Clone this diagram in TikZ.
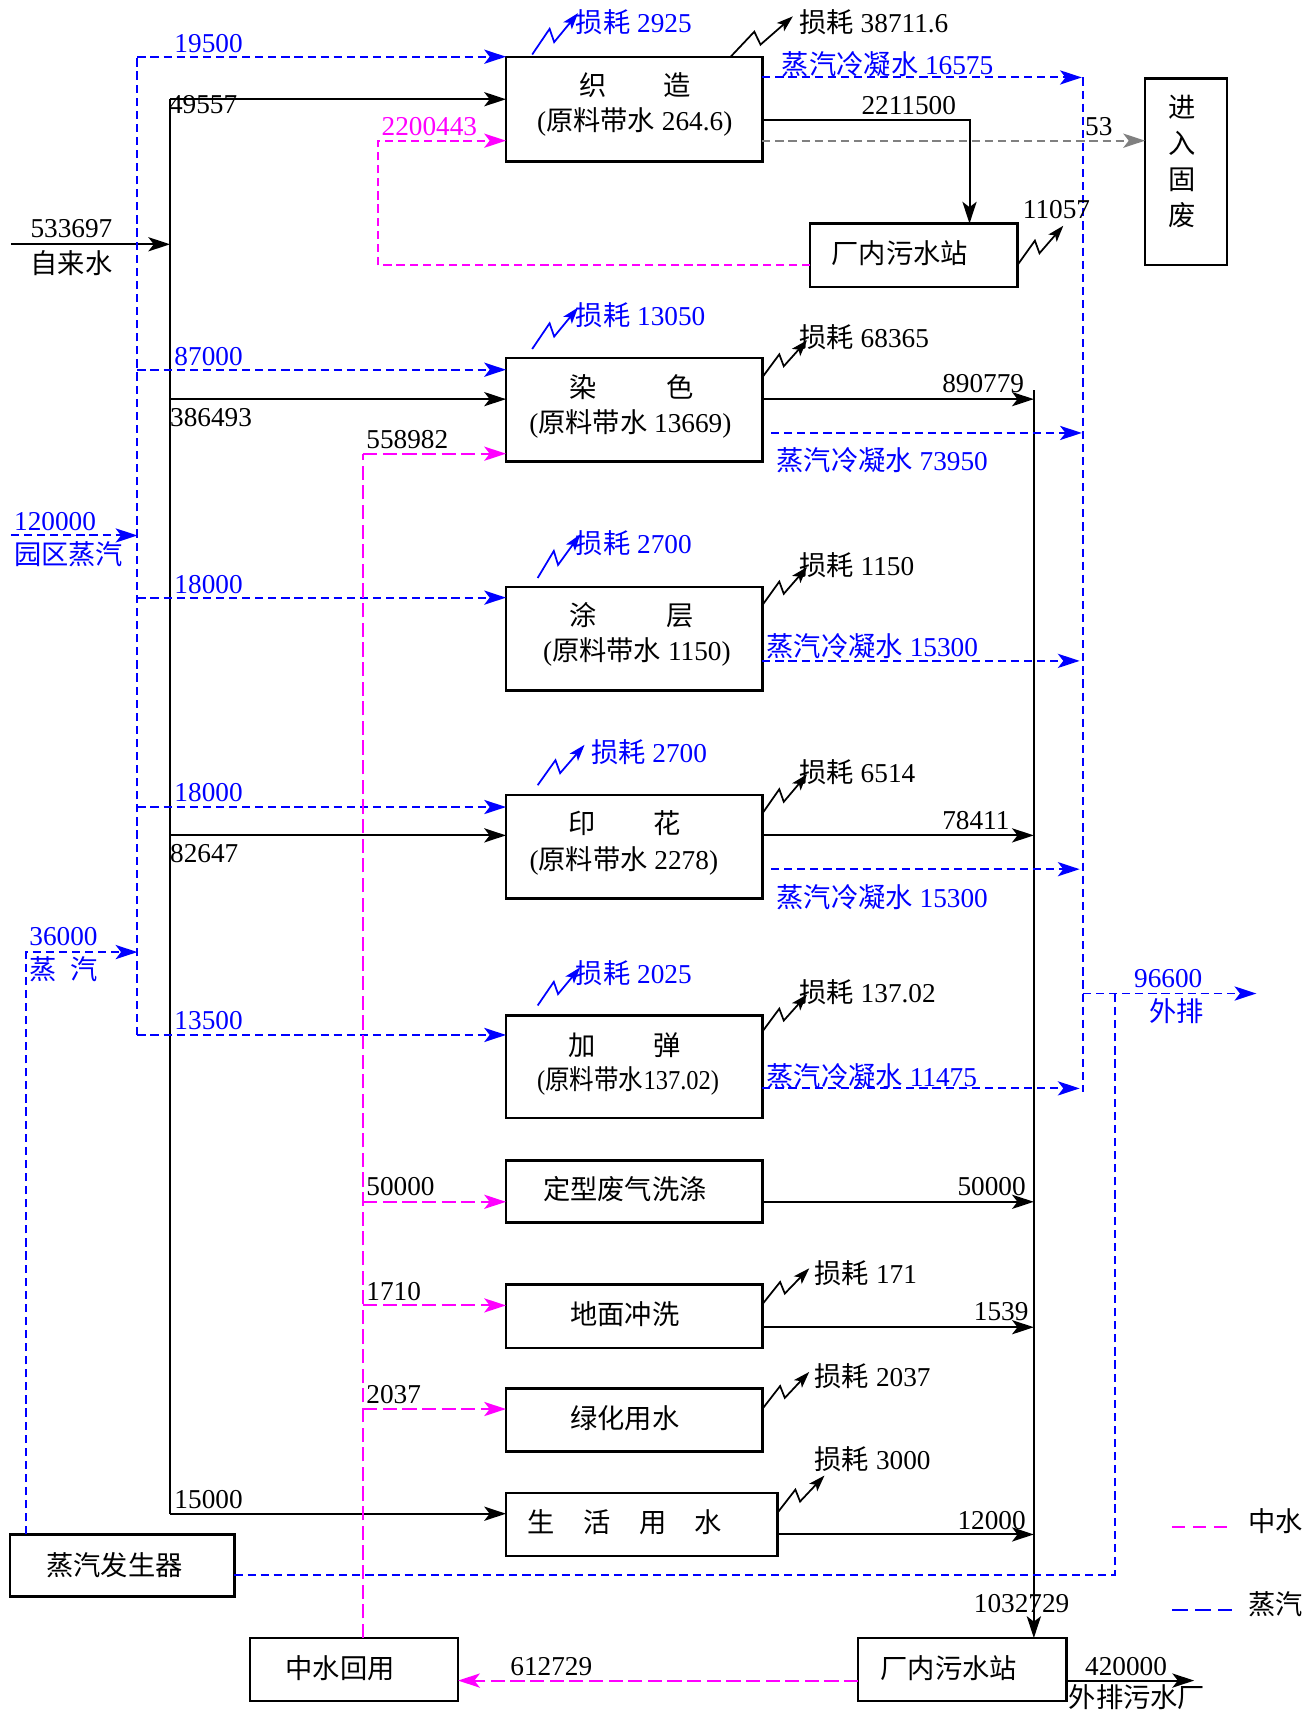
\documentclass[tikz,border=0pt]{standalone}
\usepackage{fontspec}
\usepackage{graphicx}
\setmainfont{Liberation Serif}
\newfontfamily\cjk{Noto Sans CJK SC}
\usetikzlibrary{arrows.meta,calc}
\definecolor{mag}{RGB}{255,0,255}
\definecolor{blu}{RGB}{0,0,255}
\definecolor{gry}{RGB}{128,128,128}
\newcommand\zh[1]{{\cjk #1}}
\newcommand\lossarrow[3]{%
  \draw[lossln,#3] let \p1=#1, \p2=#2 in
    (\p1) -- ({\x1+0.38*(\x2-\x1)},{\y1+0.62*(\y2-\y1)})
    -- ({\x1+0.48*(\x2-\x1)},{\y1+0.30*(\y2-\y1)}) -- (\p2);}
\begin{document}
\begin{tikzpicture}[x=1pt,y=-1pt,
  every node/.style={inner sep=0pt,outer sep=0pt},
  font=\fontsize{25}{30}\selectfont,
  box/.style={draw,line width=2.2pt,anchor=north west},
  lbl/.style={anchor=west},
  wline/.style={line width=1.8pt},
  arr/.style={-{Stealth[length=20pt,width=13pt,inset=5pt]}},
  bl/.style={blu,dash pattern=on 7.5pt off 4.5pt},
  mg/.style={mag,dash pattern=on 13pt off 5pt},
  mgs/.style={mag,dash pattern=on 7.5pt off 4.5pt},
  gr/.style={gry,dash pattern=on 7.5pt off 4.5pt},
  lossln/.style={line width=1.6pt,-{Stealth[length=15pt,width=10pt,inset=3.5pt]}}
]
\useasboundingbox (0,0) rectangle (1196,1568);
\fill[white] (0,0) rectangle (1196,1568);

% ---------------- boxes
\node[box,minimum width=235pt,minimum height=96pt] (zz) at (464,52) {};
\node[box,minimum width=190pt,minimum height=58pt] (ws1) at (743,205) {};
\node[box,minimum width=75pt,minimum height=171pt] (gf) at (1050,72) {};
\node[box,minimum width=235pt,minimum height=95pt] (rs) at (464,328) {};
\node[box,minimum width=235pt,minimum height=95pt] (tc) at (464,538) {};
\node[box,minimum width=235pt,minimum height=95pt] (yh) at (464,729) {};
\node[box,minimum width=235pt,minimum height=94pt] (jt) at (464,931) {};
\node[box,minimum width=235pt,minimum height=57pt] (dx) at (464,1064) {};
\node[box,minimum width=235pt,minimum height=58pt] (dm) at (464,1178) {};
\node[box,minimum width=235pt,minimum height=58pt] (lh) at (464,1273) {};
\node[box,minimum width=249pt,minimum height=58pt] (sh) at (464,1369) {};
\node[box,minimum width=206pt,minimum height=57pt] (zq) at (9,1407) {};
\node[box,minimum width=191pt,minimum height=58pt] (zs) at (229,1502) {};
\node[box,minimum width=191pt,minimum height=58pt] (ws2) at (787,1502) {};

% ---------------- box texts
\node (tzz1) at (582,78) {\zh{织\hspace{52pt}造}};
\node (tzz2) at (582,112) {(\zh{原料带水} 264.6)};
\node (tws1) at (825,232) {\zh{厂内污水站}};
\node[align=center,font=\fontsize{25}{33}\selectfont\cjk] (tgf) at (1084,148) {进\\入\\固\\废};
\node (trs1) at (579,355) {\zh{染\hspace{64pt}色}};
\node (trs2) at (578,389) {(\zh{原料带水} 13669)};
\node (ttc1) at (579,564) {\zh{涂\hspace{64pt}层}};
\node (ttc2) at (584,598) {(\zh{原料带水} 1150)};
\node (tyh1) at (573,755) {\zh{印\hspace{53pt}花}};
\node (tyh2) at (572,789) {(\zh{原料带水} 2278)};
\node (tjt1) at (573,958) {\zh{加\hspace{53pt}弹}};
\node (tjt2) at (576,991) {\scalebox{0.9}[1]{(\zh{原料带水}137.02)}};
\node (tdx) at (573,1090) {\zh{定型废气洗涤}};
\node (tdm) at (573,1205) {\zh{地面冲洗}};
\node (tlh) at (573,1300) {\zh{绿化用水}};
\node (tsh) at (573,1396) {\zh{生\hspace{26pt}活\hspace{26pt}用\hspace{26pt}水}};
\node (tzq) at (105,1435) {\zh{蒸汽发生器}};
\node (tzs) at (312,1530) {\zh{中水回用}};
\node (tws2) at (870,1530) {\zh{厂内污水站}};

% ---------------- tap water (black)
\coordinate (tap) at (10,224);
\draw[wline,arr] (tap) -- (156,224);
\draw[wline] (156,91) -- (156,1388);
\draw[wline,arr] (156,91) -- (zz.west|-0,91);
\draw[wline,arr] (156,366) -- (rs.west|-0,366);
\draw[wline,arr] (156,766) -- (yh.west|-0,766);
\draw[wline,arr] (156,1388) -- (sh.west|-0,1388);

% ---------------- park steam (blue)
\coordinate (stin) at (10,491);
\draw[bl,wline] (126,949) -- (126,52);
\draw[bl,wline,arr] (stin) -- (126,491);
\draw[bl,wline,arr] ($(zq.north west)+(15,0)$) |- (126,873);
\draw[bl,wline,arr] (126,52) -- (zz.north west);
\draw[bl,wline,arr] (126,339) -- (rs.west|-0,339);
\draw[bl,wline,arr] (126,548) -- (tc.west|-0,548);
\draw[bl,wline,arr] (126,740) -- (yh.west|-0,740);
\draw[bl,wline,arr] (126,949) -- (jt.west|-0,949);

% ---------------- reclaimed water (magenta)
\draw[mgs,wline,arr] (ws1.west|-0,243) -| (347,129) -- (zz.west|-0,129);
\draw[mg,wline] (zs.north-|333,0) -- (333,416);
\draw[mg,wline,arr] (333,416) -- (rs.west|-0,416);
\draw[mg,wline,arr] (333,1102) -- (dx.west|-0,1102);
\draw[mg,wline,arr] (333,1197) -- (dm.west|-0,1197);
\draw[mg,wline,arr] (333,1292) -- (lh.west|-0,1292);
\draw[mg,wline,arr] (ws2.west|-0,1541) -- (zs.east|-0,1541);

% ---------------- solid waste (gray)
\draw[gr,wline,arr] (zz.east|-0,129) -- (gf.west|-0,129);

% ---------------- waste water (black)
\draw[wline,arr] (zz.east|-0,110) -| (ws1.north-|889,0);
\draw[wline,arr] (948,358) -- (ws2.north-|948,0);
\draw[wline,arr] (rs.east|-0,366) -- (948,366);
\draw[wline,arr] (yh.east|-0,766) -- (948,766);
\draw[wline,arr] (dx.east|-0,1102) -- (948,1102);
\draw[wline,arr] (dm.east|-0,1217) -- (948,1217);
\draw[wline,arr] (sh.east|-0,1407) -- (948,1407);
\coordinate (out) at (1095,1541);
\draw[wline,arr] (ws2.east|-0,1541) -- (out);

% ---------------- condensate (blue)
\draw[bl,wline,arr] (zz.east|-0,71) -- (992,71);
\draw[bl,wline] (993,71) -- (993,1001);
\draw[bl,wline,arr] (707,397) -- (992,397);
\draw[bl,wline,arr] (tc.east|-0,606) -- (990,606);
\draw[bl,wline,arr] (707,797) -- (990,797);
\draw[bl,wline,arr] (jt.east|-0,998) -- (990,998);
\coordinate (ext) at (1152,911);
\draw[bl,wline,arr] (993,911) -- (ext);
\draw[bl,wline] (zq.east|-0,1444) -| (1022,911);

% ---------------- legend
\draw[mag,line width=1.8pt,dash pattern=on 12pt off 7pt] (1075,1400) -- (1130,1400);
\draw[blu,line width=1.8pt,dash pattern=on 14pt off 7pt] (1075,1476) -- (1130,1476);
\node[lbl] (lgm) at (1145,1395) {\zh{中水}};
\node[lbl] (lgb) at (1145,1471) {\zh{蒸汽}};

% ---------------- loss arrows
\lossarrow{(488,50)}{(530,12)}{blu}
\lossarrow{(488,320)}{(530,282)}{blu}
\lossarrow{(493,530)}{(532,490)}{blu}
\lossarrow{(493,720)}{(536,683)}{blu}
\lossarrow{(493,922)}{(532,887)}{blu}
\lossarrow{(670,52)}{(727,15)}{black}
\lossarrow{(933,243)}{(975,207)}{black}
\lossarrow{(699,346)}{(740,312)}{black}
\lossarrow{(699,555)}{(740,520)}{black}
\lossarrow{(699,746)}{(740,710)}{black}
\lossarrow{(699,946)}{(740,912)}{black}
\lossarrow{(699,1196)}{(742,1163)}{black}
\lossarrow{(699,1292)}{(742,1258)}{black}
\lossarrow{(713,1387)}{(756,1353)}{black}

% ---------------- labels left side
\node[lbl,blu] (a1) at (160,40) {19500};
\node[lbl] (a2) at (155,96) {49557};
\node[lbl,mag] (a3) at (350,116) {2200443};
\node[lbl] (a4) at (28,210) {533697};
\node[lbl] (a5) at (28,241) {\zh{自来水}};
\node[lbl,blu] (a6) at (160,327) {87000};
\node[lbl] (a7) at (156,383) {386493};
\node[lbl] (a8) at (336,403) {558982};
\node[lbl,blu] (a9) at (13,478) {120000};
\node[lbl,blu] (a10) at (13,508) {\zh{园区蒸汽}};
\node[lbl,blu] (a11) at (160,536) {18000};
\node[lbl,blu] (a12) at (160,727) {18000};
\node[lbl] (a13) at (156,783) {82647};
\node[lbl,blu] (a14) at (27,859) {36000};
\node[lbl,blu] (a15) at (27,889) {\zh{蒸\hspace{13pt}汽}};
\node[lbl,blu] (a16) at (160,936) {13500};
\node[lbl] (a17) at (336,1088) {50000};
\node[lbl] (a18) at (336,1184) {1710};
\node[lbl] (a19) at (336,1279) {2037};
\node[lbl] (a20) at (160,1375) {15000};
\node[lbl] (a21) at (468,1528) {612729};

% ---------------- labels right side
\node[lbl,blu] (b1) at (528,20) {\zh{损耗} 2925};
\node[lbl] (b2) at (733,20) {\zh{损耗} 38711.6};
\node[lbl,blu] (b3) at (717,59) {\zh{蒸汽冷凝水} 16575};
\node[lbl] (b4) at (790,97) {2211500};
\node[lbl] (b5) at (995,116) {53};
\node[lbl] (b6) at (938,192) {11057};
\node[lbl,blu] (b7) at (528,289) {\zh{损耗} 13050};
\node[lbl] (b8) at (733,309) {\zh{损耗} 68365};
\node[lbl] (b9) at (864,352) {890779};
\node[lbl,blu] (b10) at (712,422) {\zh{蒸汽冷凝水} 73950};
\node[lbl,blu] (b11) at (528,498) {\zh{损耗} 2700};
\node[lbl] (b12) at (733,518) {\zh{损耗} 1150};
\node[lbl,blu] (b13) at (703,593) {\zh{蒸汽冷凝水} 15300};
\node[lbl,blu] (b14) at (542,690) {\zh{损耗} 2700};
\node[lbl] (b15) at (733,708) {\zh{损耗} 6514};
\node[lbl] (b16) at (864,752) {78411};
\node[lbl,blu] (b17) at (712,823) {\zh{蒸汽冷凝水} 15300};
\node[lbl,blu] (b18) at (528,892) {\zh{损耗} 2025};
\node[lbl,blu] (b19) at (1040,897) {96600};
\node[lbl,blu] (b20) at (1054,927) {\zh{外排}};
\node[lbl] (b21) at (733,910) {\zh{损耗} 137.02};
\node[lbl,blu] (b22) at (703,987) {\zh{蒸汽冷凝水} 11475};
\node[lbl] (b23) at (878,1088) {50000};
\node[lbl] (b24) at (747,1167) {\zh{损耗} 171};
\node[lbl] (b25) at (893,1203) {1539};
\node[lbl] (b26) at (747,1262) {\zh{损耗} 2037};
\node[lbl] (b27) at (747,1338) {\zh{损耗} 3000};
\node[lbl] (b28) at (878,1394) {12000};
\node[lbl] (b29) at (893,1470) {1032729};
\node[lbl] (b30) at (995,1528) {420000};
\node[lbl] (b31) at (980,1556) {\zh{外排污水厂}};
\end{tikzpicture}
\end{document}
